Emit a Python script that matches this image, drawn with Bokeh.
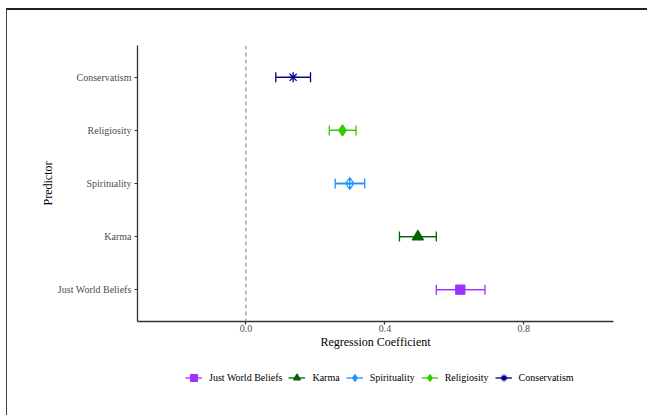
from bokeh.plotting import figure
from bokeh.layouts import column
from bokeh.models import (Range1d, FixedTicker, Span, Whisker, TeeHead,
                          ColumnDataSource, Legend, LegendItem)
from bokeh.embed import file_html
from bokeh.resources import INLINE

# ---- data ----
predictors = ["Just World Beliefs", "Karma", "Spirituality", "Religiosity", "Conservatism"]
estimates = [0.617, 0.495, 0.299, 0.278, 0.136]
ci_lower = [0.548, 0.442, 0.257, 0.240, 0.086]
ci_upper = [0.688, 0.548, 0.342, 0.317, 0.186]
x_ticks = [0.0, 0.4, 0.8]
x_tick_labels = ["0.0", "0.4", "0.8"]

# ---- styles ----
colors = ["#9B30FF", "#006400", "#1E90FF", "#33CC00", "#00008B"]
markers = ["square", "triangle", "diamond_cross", "diamond", "asterisk"]
sizes = [9, 11, 12, 11, 10]
key_sizes = [10, 15, 14, 12, 13]
filled = [True, True, False, True, False]
FONT = "Liberation Serif"
W = 640

p = figure(width=W, height=351,
           x_range=Range1d(-0.312, 1.058), y_range=Range1d(0.4, 5.6),
           output_backend="svg", toolbar_location=None,
           min_border_left=130, min_border_right=34,
           min_border_top=35, min_border_bottom=40)
p.outline_line_color = None
p.xgrid.visible = False
p.ygrid.visible = False

y_pos = [i + 1 for i in range(len(predictors))]

p.xaxis.ticker = FixedTicker(ticks=x_ticks)
p.xaxis.major_label_overrides = {t: l for t, l in zip(x_ticks, x_tick_labels)}
p.yaxis.ticker = FixedTicker(ticks=y_pos)
p.yaxis.major_label_overrides = {y: n for y, n in zip(y_pos, predictors)}

for ax in (p.xaxis, p.yaxis):
    ax.axis_line_color = "#333333"
    ax.axis_line_width = 1.3
    ax.major_tick_line_color = "#333333"
    ax.major_tick_line_width = 1.2
    ax.major_tick_out = 3
    ax.major_tick_in = 0
    ax.minor_tick_line_color = None
    ax.major_label_text_font = FONT
    ax.major_label_text_font_size = "10px"
    ax.major_label_text_color = "#4D4D4D"
    ax.major_label_standoff = 3
    ax.axis_label_text_font = FONT
    ax.axis_label_text_font_size = "12px"
    ax.axis_label_text_font_style = "normal"
    ax.axis_label_text_color = "black"
    ax.axis_label_standoff = 0
p.xaxis.axis_label = "Regression Coefficient"
p.yaxis.axis_label = "Predictor"
p.xaxis.major_label_standoff = 0

p.add_layout(Span(location=0, dimension="height", line_color="#808080",
                  line_dash="4 3", line_width=1))

# legend-only figure below the main one
lg = figure(width=W, height=54, x_range=Range1d(0, 1), y_range=Range1d(0, 1),
            output_backend="svg", toolbar_location=None, min_border=0)
lg.axis.visible = False
lg.grid.visible = False
lg.outline_line_color = None

items = []
for i, name in enumerate(predictors):
    src = ColumnDataSource(dict(y=[y_pos[i]], est=[estimates[i]],
                                lo=[ci_lower[i]], hi=[ci_upper[i]]))
    c = colors[i]
    p.segment(x0="lo", y0="y", x1="hi", y1="y", source=src,
              line_color=c, line_width=1.3)
    wh = Whisker(source=src, base="y", lower="lo", upper="hi", dimension="width",
                 line_color=c, line_width=1.3,
                 upper_head=TeeHead(size=10, line_color=c, line_width=1.3),
                 lower_head=TeeHead(size=10, line_color=c, line_width=1.3))
    p.add_layout(wh)
    p.scatter(x="est", y="y", source=src, marker=markers[i], size=sizes[i],
              line_color=c, fill_color=c if filled[i] else None, line_width=1.3)
    # legend key renderers (hidden in the legend panel, shown only as keys)
    seg2 = lg.segment(x0="lo", y0="y", x1="hi", y1="y", source=src,
                      line_color=c, line_width=1.3, visible=False)
    sc2 = lg.scatter(x="est", y="y", source=src, marker=markers[i], size=key_sizes[i],
                     line_color=c, fill_color=c if filled[i] else None,
                     line_width=1.3, visible=False)
    items.append(LegendItem(label=name, renderers=[seg2, sc2]))

legend = Legend(items=items, orientation="horizontal", location=(48, 29),
                border_line_color=None, background_fill_alpha=0,
                label_text_font=FONT, label_text_font_size="10px",
                label_text_color="black",
                glyph_width=17, glyph_height=17, label_standoff=7,
                spacing=6, padding=0, margin=0)
lg.add_layout(legend, "center")

layout = column(p, lg, spacing=0)
layout.styles = {"border-top": "2px solid #222222", "border-left": "1px solid #444444",
                 "margin-left": "6px", "margin-top": "8px"}

open("out.html", "w").write(file_html(layout, INLINE))
